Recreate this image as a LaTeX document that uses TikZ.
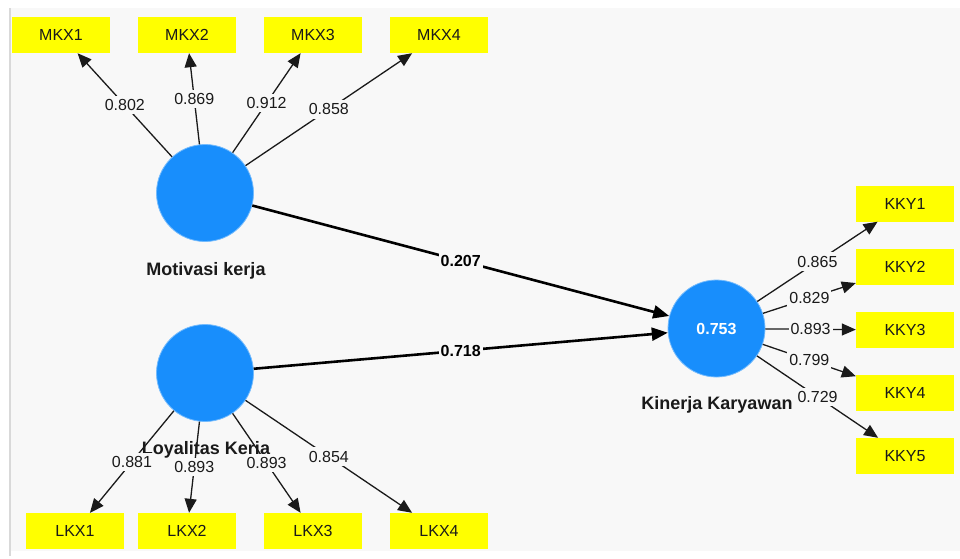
\documentclass[tikz,border=0pt]{standalone}
\usepackage{fontspec}
\setmainfont{Liberation Sans}
\usetikzlibrary{arrows.meta}
\definecolor{canvas}{HTML}{F8F8F8}
\definecolor{latent}{RGB}{24,142,252}
\definecolor{indic}{HTML}{FFFF00}
\definecolor{ink}{HTML}{1A1A1A}
\begin{document}
\begin{tikzpicture}[x=1pt,y=-1pt,
  construct/.style={circle,fill=latent,draw=latent!60!white,line width=0.8pt,
    minimum size=97pt,inner sep=0pt,text=white,font=\fontsize{16}{19}\selectfont\bfseries},
  indicator/.style={rectangle,fill=indic,minimum width=98pt,minimum height=36pt,
    inner sep=0pt,font=\fontsize{16}{19}\selectfont,text=ink},
  cname/.style={font=\fontsize{18}{21}\selectfont\bfseries,text=ink},
  loading/.style={-{Triangle[length=14pt,width=12pt]},line width=1.3pt,draw=ink},
  pathcoef/.style={-{Triangle[length=16pt,width=13pt]},line width=2.6pt,draw=black},
  lbl/.style={fill=canvas,inner xsep=2pt,inner ysep=3.5pt,font=\fontsize{16}{19}\selectfont,text=ink},
  blbl/.style={fill=canvas,inner sep=2pt,font=\fontsize{16}{19}\selectfont\bfseries,text=black}
]
\useasboundingbox (0,0) rectangle (960,558);
% canvas
\fill[white] (0,0) rectangle (960,558);
\fill[canvas] (11,8) rectangle (960,551);
\draw[black!15,line width=1.5pt] (10,8) -- (10,556);

% latent constructs
\node[construct] (MK) at (205,193) {};
\node[construct] (LK) at (205,373) {};
\node[construct] (KK) at (716.5,328.5) {0.753};
\node[cname] (MKlab) at (206,271) {Motivasi kerja};
\node[cname] (LKlab) at (206,450) {Loyalitas Kerja};
\node[cname] (KKlab) at (717,405) {Kinerja Karyawan};

% indicators
\node[indicator] (MKX1) at (61,35) {MKX1};
\node[indicator] (MKX2) at (187,35) {MKX2};
\node[indicator] (MKX3) at (313,35) {MKX3};
\node[indicator] (MKX4) at (439,35) {MKX4};
\node[indicator] (LKX1) at (75,531) {LKX1};
\node[indicator] (LKX2) at (187,531) {LKX2};
\node[indicator] (LKX3) at (313,531) {LKX3};
\node[indicator] (LKX4) at (439,531) {LKX4};
\node[indicator] (KKY1) at (905,203.5) {KKY1};
\node[indicator] (KKY2) at (905,267) {KKY2};
\node[indicator] (KKY3) at (905,330) {KKY3};
\node[indicator] (KKY4) at (905,393) {KKY4};
\node[indicator] (KKY5) at (905,456) {KKY5};

% outer loadings
\draw[loading] (MK) -- node[lbl]{0.802} (MKX1);
\draw[loading] (MK) -- node[lbl]{0.869} (MKX2);
\draw[loading] (MK) -- node[lbl]{0.912} (MKX3);
\draw[loading] (MK) -- node[lbl]{0.858} (MKX4);
\draw[loading] (LK) -- node[lbl]{0.881} (LKX1);
\draw[loading] (LK) -- node[lbl]{0.893} (LKX2);
\draw[loading] (LK) -- node[lbl]{0.893} (LKX3);
\draw[loading] (LK) -- node[lbl]{0.854} (LKX4);
\draw[loading] (KK) -- node[lbl]{0.865} (KKY1);
\draw[loading] (KK) -- node[lbl]{0.829} (KKY2);
\draw[loading] (KK) -- node[lbl]{0.893} (KKY3);
\draw[loading] (KK) -- node[lbl]{0.799} (KKY4);
\draw[loading] (KK) -- node[lbl]{0.729} (KKY5);

% path coefficients
\draw[pathcoef] (MK) -- node[blbl]{0.207} (KK);
\draw[pathcoef] (LK) -- node[blbl]{0.718} (KK);
\end{tikzpicture}
\end{document}
